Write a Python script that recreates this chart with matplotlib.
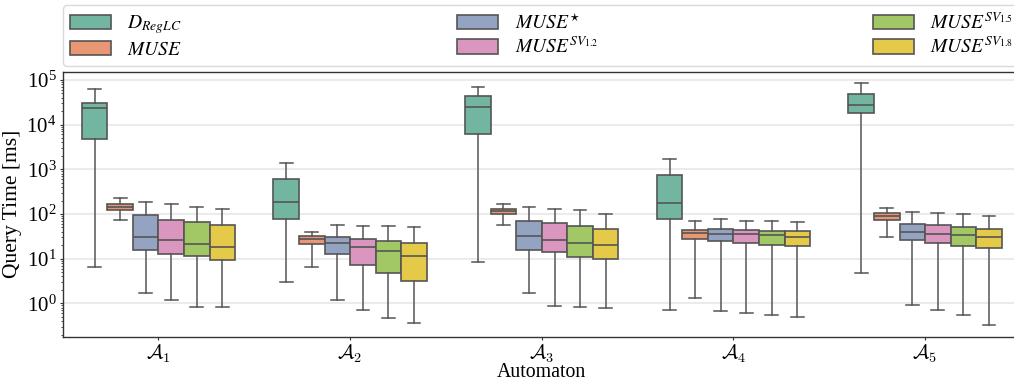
import colorsys
import matplotlib
matplotlib.use("Agg")
import matplotlib.pyplot as plt
from matplotlib.colors import to_rgb
from matplotlib.patches import Patch
from matplotlib.ticker import LogLocator, NullFormatter

plt.rcParams["font.family"] = ["Liberation Serif", "DejaVu Serif"]
plt.rcParams["mathtext.fontset"] = "stix"
plt.rcParams["font.size"] = 14

# Categories and series
automata = [r"$\mathcal{A}_1$", r"$\mathcal{A}_2$", r"$\mathcal{A}_3$",
            r"$\mathcal{A}_4$", r"$\mathcal{A}_5$"]
methods = [r"$D_{RegLC}$", r"$MUSE$", r"$MUSE^{\star}$",
           r"$MUSE^{SV_{\mathrm{1.2}}}$", r"$MUSE^{SV_{\mathrm{1.5}}}$",
           r"$MUSE^{SV_{\mathrm{1.8}}}$"]

# Query-time summaries per automaton: [min, q1, median, q3, max] in ms
d_reglc = [[6.5, 4640, 23000, 29800, 64000],
           [3.0, 76, 185, 600, 1360],
           [8.4, 6100, 24300, 44100, 67600],
           [0.70, 77, 179, 748, 1670],
           [4.7, 18200, 27400, 48000, 84400]]
muse = [[73.6, 125, 143, 167, 223],
        [6.4, 21.5, 27.8, 31.4, 40.5],
        [56, 100, 115, 129, 167],
        [1.34, 27.8, 38.5, 44, 71],
        [30.8, 74.8, 88.7, 105, 134]]
muse_star = [[1.73, 15.8, 30.3, 95, 185],
             [1.17, 12.7, 21.9, 30.3, 57],
             [1.7, 15.8, 31.4, 71, 143],
             [0.66, 24.3, 36.5, 45.6, 77],
             [0.92, 26, 39.2, 61, 111]]
muse_sv12 = [[1.19, 12.9, 26, 75, 167],
             [0.70, 7.1, 17.9, 27.4, 53],
             [0.87, 14.3, 26, 62, 129],
             [0.60, 21.9, 35.3, 44, 70],
             [0.72, 23, 35.3, 58, 107]]
muse_sv15 = [[0.84, 11.3, 21.2, 65, 146],
             [0.48, 4.89, 14.8, 25.1, 53],
             [0.81, 10.9, 22.3, 55, 121],
             [0.55, 20.5, 33.6, 42.6, 70],
             [0.54, 18.8, 33, 51.4, 100]]
muse_sv18 = [[0.83, 9.5, 17.9, 57, 129],
             [0.366, 3.13, 11.5, 23, 52],
             [0.79, 9.7, 19.8, 45.6, 100],
             [0.49, 18.8, 30.3, 41.2, 67.6],
             [0.336, 17.3, 29.8, 46.4, 91.8]]
series = [d_reglc, muse, muse_star, muse_sv12, muse_sv15, muse_sv18]

set2 = ["#66c2a5", "#fc8d62", "#8da0cb", "#e78ac3", "#a6d854", "#ffd92f"]


def desaturate(color, prop=0.75):
    h, l, s = colorsys.rgb_to_hls(*to_rgb(color))
    return colorsys.hls_to_rgb(h, l, s * prop)


colors = [desaturate(c) for c in set2]
edge = "#555555"

fig = plt.figure(figsize=(10.14, 3.83), dpi=100)
ax = fig.add_axes([0.0618, 0.121, 0.945, 0.691])

n = len(methods)
slot = 0.8 / n
for j, (stats_list, color) in enumerate(zip(series, colors)):
    stats = []
    for lo, q1, med, q3, hi in stats_list:
        stats.append(dict(whislo=lo, q1=q1, med=med, q3=q3, whishi=hi, fliers=[]))
    positions = [i - 0.4 + slot * (j + 0.5) for i in range(len(automata))]
    ax.bxp(stats, positions=positions, widths=slot, patch_artist=True,
           showfliers=False, manage_ticks=False,
           boxprops=dict(facecolor=color, edgecolor=edge, linewidth=1.2),
           medianprops=dict(color=edge, linewidth=1.2),
           whiskerprops=dict(color=edge, linewidth=1.1),
           capprops=dict(color=edge, linewidth=1.1))

ax.set_yscale("log")
ax.set_ylim(0.18, 1.5e5)
ax.set_xlim(-0.5, len(automata) - 0.5)
ax.set_xticks(range(len(automata)))
ax.set_xticklabels(automata, math_fontfamily="cm", fontsize=14.5)
ax.yaxis.set_major_locator(LogLocator(base=10, numticks=12))
ax.yaxis.set_minor_locator(LogLocator(base=10, subs=range(2, 10), numticks=12))
ax.yaxis.set_minor_formatter(NullFormatter())
ax.tick_params(axis="y", which="major", length=2.5, width=0.8,
               color="#333333", pad=2, labelsize=15)
ax.tick_params(axis="x", which="major", length=2.5, width=0.8,
               color="#333333", pad=1.5)
ax.tick_params(axis="y", which="minor", length=1.5, width=0.6, color="#333333")
ax.grid(axis="y", which="major", color="#ebebeb", linewidth=1.5)
ax.set_axisbelow(True)
for s in ax.spines.values():
    s.set_color("#333333")
    s.set_linewidth(1.0)

ax.set_xlabel("Automaton", labelpad=-1, fontsize=14.3)
ax.set_ylabel("Query Time [ms]", labelpad=3, fontsize=15.5)

handles = [Patch(facecolor=c, edgecolor=edge, linewidth=1.2) for c in colors]
fig.legend(handles, methods, loc="upper left",
           bbox_to_anchor=(0.0618, 0.80, 0.945, 0.187), mode="expand",
           borderaxespad=0, ncol=3, frameon=True, fancybox=True,
           edgecolor="#d0d0d0", handlelength=2.1, handleheight=0.75,
           handletextpad=0.85, labelspacing=0.22, borderpad=0.38,
           fontsize=14)

fig.savefig("out.png", dpi=100)
